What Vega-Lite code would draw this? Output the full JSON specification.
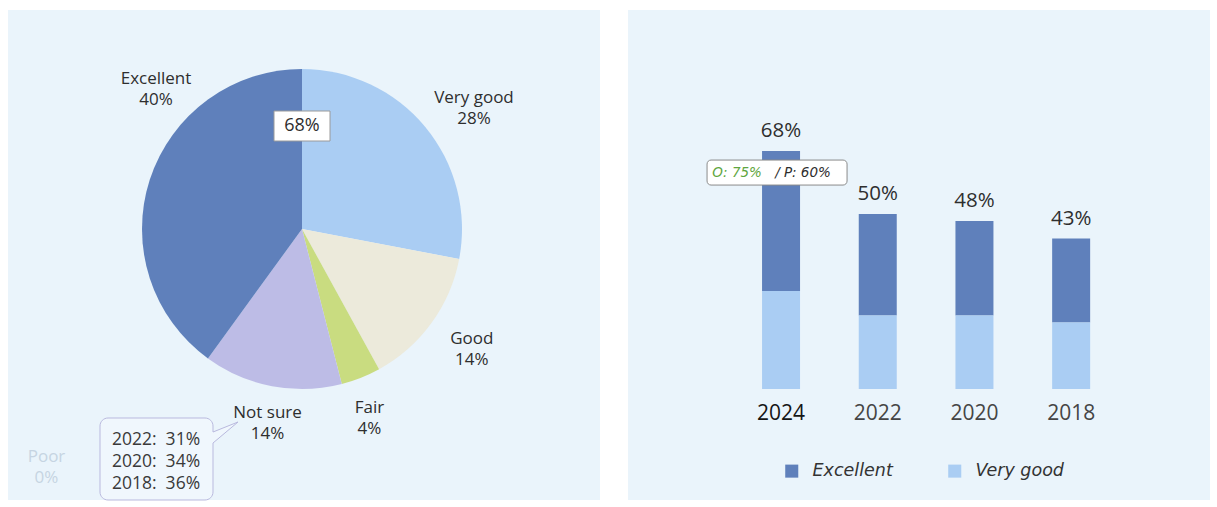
{
  "$schema": "https://vega.github.io/schema/vega-lite/v6.json",
  "background": "white",
  "padding": {"left": 8, "top": 10, "right": 7, "bottom": 7},
  "spacing": 28,
  "config": {"view": {"stroke": null}, "font": "Open Sans"},
  "resolve": {"scale": {"color": "independent"}, "legend": {"color": "independent"}},
  "datasets": {
    "pie": [
      {"rating": "Very good", "share": 0.28, "label": ["Very good", "28%"]},
      {"rating": "Good", "share": 0.14, "label": ["Good", "14%"]},
      {"rating": "Fair", "share": 0.04, "label": ["Fair", "4%"]},
      {"rating": "Not sure", "share": 0.14, "label": ["Not sure", "14%"]},
      {"rating": "Poor", "share": 0.0, "label": ["Poor", "0%"]},
      {"rating": "Excellent", "share": 0.40, "label": ["Excellent", "40%"]}
    ],
    "callout": [
      {"lines": ["2022:\u00a0 31%", "2020:\u00a0 34%", "2018:\u00a0 36%"]}
    ],
    "bars": [
      {"year": "2024", "rating": "Excellent", "share": 0.40},
      {"year": "2024", "rating": "Very good", "share": 0.28},
      {"year": "2022", "rating": "Excellent", "share": 0.29},
      {"year": "2022", "rating": "Very good", "share": 0.21},
      {"year": "2020", "rating": "Excellent", "share": 0.27},
      {"year": "2020", "rating": "Very good", "share": 0.21},
      {"year": "2018", "rating": "Excellent", "share": 0.24},
      {"year": "2018", "rating": "Very good", "share": 0.19}
    ]
  },
  "hconcat": [
    {
      "width": 592,
      "height": 490,
      "view": {"fill": "#eaf4fb", "stroke": null},
      "layer": [
        {
          "data": {"name": "pie"},
          "transform": [{"window": [{"op": "row_number", "as": "idx"}]}],
          "mark": {"type": "arc", "outerRadius": 160, "xOffset": -2, "yOffset": -26},
          "encoding": {
            "theta": {"field": "share", "type": "quantitative", "stack": true},
            "order": {"field": "idx", "type": "quantitative"},
            "color": {
              "field": "rating", "type": "nominal",
              "scale": {"domain": ["Very good", "Good", "Fair", "Not sure", "Poor", "Excellent"],
                        "range": ["#aacdf3", "#eceadb", "#c9dc80", "#bdbce6", "#dddddd", "#5f80bb"]},
              "legend": null
            }
          }
        },
        {
          "data": {"name": "pie"},
          "transform": [{"window": [{"op": "row_number", "as": "idx"}]}],
          "encoding": {
            "theta": {"field": "share", "type": "quantitative", "stack": true},
            "order": {"field": "idx", "type": "quantitative"},
            "detail": {"field": "rating", "type": "nominal"},
            "text": {"field": "label", "type": "nominal"}
          },
          "layer": [
            {"mark": {"type": "text", "clip": true, "radius": 205, "xOffset": -2, "yOffset": -26, "dx": 14, "dy": -0.5, "fontSize": 17, "lineHeight": 21, "color": "#2e2e2e"},
             "encoding": {"opacity": {"condition": {"test": "datum.rating === 'Very good'", "value": 1}, "value": 0}}},
            {"mark": {"type": "text", "clip": true, "radius": 205, "xOffset": -2, "yOffset": -26, "dx": 4, "dy": -10.5, "fontSize": 17, "lineHeight": 21, "color": "#2e2e2e"},
             "encoding": {"opacity": {"condition": {"test": "datum.rating === 'Good'", "value": 1}, "value": 0}}},
            {"mark": {"type": "text", "clip": true, "radius": 205, "xOffset": -2, "yOffset": -26, "dx": -8, "dy": -11.5, "fontSize": 17, "lineHeight": 21, "color": "#2e2e2e"},
             "encoding": {"opacity": {"condition": {"test": "datum.rating === 'Fair'", "value": 1}, "value": 0}}},
            {"mark": {"type": "text", "clip": true, "radius": 205, "xOffset": -2, "yOffset": -26, "dx": 4, "dy": -17.5, "fontSize": 17, "lineHeight": 21, "color": "#2e2e2e"},
             "encoding": {"opacity": {"condition": {"test": "datum.rating === 'Not sure'", "value": 1}, "value": 0}}},
            {"mark": {"type": "text", "clip": true, "radius": 205, "xOffset": -2, "yOffset": -26, "dx": 49, "dy": -86.5, "fontSize": 17, "lineHeight": 21, "color": "#2e2e2e"},
             "encoding": {"opacity": {"condition": {"test": "datum.rating === 'Excellent'", "value": 1}, "value": 0}}},
            {"mark": {"type": "text", "clip": true, "radius": 205, "xOffset": -2, "yOffset": -26, "dx": -135, "dy": 62.5, "fontSize": 17, "lineHeight": 21, "color": "#c6d4e2"},
             "encoding": {"opacity": {"condition": {"test": "datum.rating === 'Poor'", "value": 1}, "value": 0}}}
          ]
        },
        {
          "data": {"name": "pie"},
          "transform": [
            {"filter": "datum.rating === 'Excellent' || datum.rating === 'Very good'"},
            {"aggregate": [{"op": "sum", "field": "share", "as": "top2"}]}
          ],
          "layer": [
            {"mark": {"type": "point", "shape": "M-28,-15H28V15H-28Z", "size": 4, "filled": true, "fill": "white", "stroke": "#9a9a9a", "strokeWidth": 1, "opacity": 1, "xOffset": -2, "yOffset": -129},
             "encoding": {}},
            {"mark": {"type": "text", "fontSize": 18, "color": "#2e2e2e", "xOffset": -2, "yOffset": -129},
             "encoding": {"text": {"field": "top2", "type": "quantitative", "format": ".0%"}}}
          ]
        },
        {
          "data": {"name": "callout"},
          "layer": [
            {"mark": {"type": "point", "shape": "M-48.5,-41H48.5A8,8 0 0 1 56.5,-33V-27L81.5,-37L56.5,-16V33A8,8 0 0 1 48.5,41H-48.5A8,8 0 0 1 -56.5,33V-33A8,8 0 0 1 -48.5,-41Z", "size": 4, "filled": true, "fill": "#f0f7fd", "stroke": "#b9b9de", "strokeWidth": 1, "opacity": 1, "xOffset": -147.5, "yOffset": 204},
             "encoding": {}},
            {"mark": {"type": "text", "fontSize": 17.5, "lineHeight": 22, "color": "#3a3a3a", "xOffset": -148, "yOffset": 185},
             "encoding": {"text": {"field": "lines", "type": "nominal"}}}
          ]
        }
      ]
    },
    {
      "width": 582,
      "height": 490,
      "view": {"fill": "#eaf4fb", "stroke": null},
      "encoding": {
        "x": {
          "field": "year", "type": "nominal", "sort": ["2024", "2022", "2020", "2018"],
          "scale": {"range": [104.7, 491.5], "paddingInner": 0.607, "paddingOuter": 0.3035, "align": 0.5},
          "axis": {"orient": "bottom", "offset": -111, "domain": false, "ticks": false, "grid": false, "title": null,
                   "labelAngle": 0, "labelPadding": 13, "labelFontSize": 21, "labelFont": "Open Sans",
                   "labelColor": {"condition": {"test": "datum.value === '2024'", "value": "#151515"}, "value": "#454545"}}
        }
      },
      "layer": [
        {
          "data": {"name": "bars"},
          "mark": {"type": "bar"},
          "encoding": {
            "y": {"field": "share", "type": "quantitative", "stack": "zero",
                  "scale": {"domain": [-0.317, 1.083], "nice": false, "zero": false}, "axis": null},
            "order": {"field": "rating", "sort": "descending"},
            "color": {
              "field": "rating", "type": "nominal",
              "scale": {"domain": ["Excellent", "Very good"], "range": ["#5f80bb", "#aacdf3"]},
              "legend": {"orient": "none", "legendX": 155, "legendY": 452, "direction": "horizontal", "title": null,
                         "symbolType": "square", "symbolSize": 170, "symbolStrokeWidth": 0, "symbolOpacity": 1,
                         "labelFontSize": 17.5, "labelFont": "DejaVu Sans", "labelFontStyle": "italic",
                         "labelOffset": 12, "columnPadding": 53, "labelColor": "#333"}
            }
          }
        },
        {
          "data": {"name": "bars"},
          "mark": {"type": "text", "dy": -20, "fontSize": 20.5, "color": "#2e2e2e"},
          "encoding": {
            "y": {"aggregate": "sum", "field": "share", "type": "quantitative"},
            "text": {"aggregate": "sum", "field": "share", "type": "quantitative", "format": ".0%"}
          }
        },
        {
          "data": {"name": "bars"},
          "transform": [{"filter": "datum.year === '2024'"}],
          "encoding": {"y": {"aggregate": "sum", "field": "share", "type": "quantitative"}},
          "layer": [
            {"mark": {"type": "point", "shape": "M-66,-12.5H66A4,4 0 0 1 70,-8.5V8.5A4,4 0 0 1 66,12.5H-66A4,4 0 0 1 -70,8.5V-8.5A4,4 0 0 1 -66,-12.5Z",
                      "size": 4, "filled": true, "fill": "white", "stroke": "#8a8a8a", "strokeWidth": 1, "opacity": 1, "xOffset": -4, "yOffset": 21.5}},
            {"mark": {"type": "text", "text": "O: 75%", "fontSize": 13.5, "font": "DejaVu Sans", "fontStyle": "italic", "color": "#5fa640", "dx": -44, "dy": 22}},
            {"mark": {"type": "text", "text": "/ P: 60%", "fontSize": 13.5, "font": "DejaVu Sans", "fontStyle": "italic", "color": "#2e2e2e", "dx": 22, "dy": 22}}
          ]
        }
      ]
    }
  ]
}
